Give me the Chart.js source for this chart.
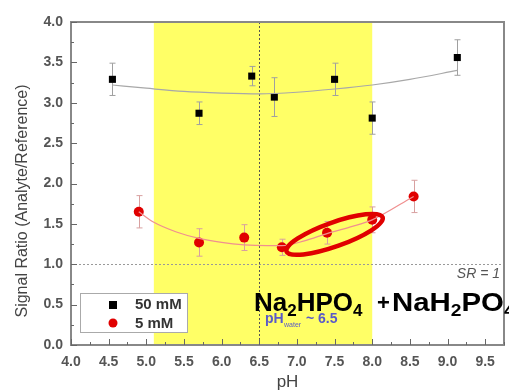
<!DOCTYPE html>
<html>
<head>
<meta charset="utf-8">
<script src="https://cdn.jsdelivr.net/npm/chart.js@4/dist/chart.umd.min.js"></script>
<style>
  html, body { margin: 0; padding: 0; background: #fff; }
  #wrap { width: 509px; height: 392px; }
</style>
</head>
<body>
<div id="wrap"><canvas id="myChart" width="509" height="392"></canvas></div>
<script>
// 50 mM points
var ph50 = [4.55, 5.7, 6.4, 6.7, 7.5, 8.0, 9.13];
var sr50 = [3.29, 2.87, 3.33, 3.07, 3.29, 2.81, 3.56];
var err50 = [0.2, 0.14, 0.12, 0.24, 0.2, 0.2, 0.22];

// 5 mM points
var ph5 = [4.9, 5.7, 6.3, 6.8, 7.4, 8.0, 8.55];
var sr5 = [1.65, 1.27, 1.33, 1.21, 1.39, 1.55, 1.84];
var err5 = [0.2, 0.17, 0.16, 0.1, 0.14, 0.16, 0.2];

// fitted curves
var fitPh50 = [4.55, 5.0, 5.5, 6.0, 6.5, 7.0, 7.5, 8.0, 8.5, 9.13];
var fitSr50 = [3.22, 3.18, 3.14, 3.12, 3.11, 3.13, 3.17, 3.22, 3.29, 3.40];
var fitPh5 = [4.9, 5.1, 5.4, 5.7, 6.0, 6.3, 6.6, 6.8, 7.1, 7.4, 7.7, 8.0, 8.55];
var fitSr5 = [1.65, 1.52, 1.40, 1.32, 1.27, 1.24, 1.23, 1.23, 1.29, 1.38, 1.46, 1.55, 1.84];

// axes
var xTicks = [4.0, 4.5, 5.0, 5.5, 6.0, 6.5, 7.0, 7.5, 8.0, 8.5, 9.0, 9.5];
var yTicks = [0.0, 0.5, 1.0, 1.5, 2.0, 2.5, 3.0, 3.5, 4.0];
var bandRange = [5.1, 8.0];
var phWater = 6.5;
var srLine = 1.0;
var seriesNames = ["50 mM", "5 mM"];

function pts(xs, ys) {
  return xs.map(function (x, i) { return { x: x, y: ys[i] }; });
}

var FONT = "'Liberation Sans', Arial, sans-serif";

// yellow band, dotted reference lines, error bars
var bgPlugin = {
  id: "bg",
  beforeDatasetsDraw: function (chart) {
    var ctx = chart.ctx, a = chart.chartArea;
    var xs = chart.scales.x, ys = chart.scales.y;
    ctx.save();
    var x1 = xs.getPixelForValue(bandRange[0]), x2 = xs.getPixelForValue(bandRange[1]);
    ctx.fillStyle = "#ffff66";
    ctx.fillRect(x1, a.top, x2 - x1, a.bottom - a.top);

    ctx.setLineDash([2, 2]);
    ctx.lineWidth = 1;
    ctx.strokeStyle = "#555";
    var xv = Math.round(xs.getPixelForValue(phWater)) + 0.5;
    ctx.beginPath(); ctx.moveTo(xv, a.top); ctx.lineTo(xv, a.bottom); ctx.stroke();

    ctx.strokeStyle = "#999";
    var yv = Math.round(ys.getPixelForValue(srLine)) + 0.5;
    ctx.beginPath(); ctx.moveTo(a.left, yv); ctx.lineTo(a.right, yv); ctx.stroke();
    ctx.setLineDash([]);

    function bars(xsArr, ysArr, es, color) {
      ctx.strokeStyle = color;
      ctx.lineWidth = 1;
      xsArr.forEach(function (x, i) {
        var px = Math.round(xs.getPixelForValue(x)) + 0.5;
        var top = ys.getPixelForValue(ysArr[i] + es[i]);
        var bot = ys.getPixelForValue(ysArr[i] - es[i]);
        ctx.beginPath();
        ctx.moveTo(px, top); ctx.lineTo(px, bot);
        ctx.moveTo(px - 3, top); ctx.lineTo(px + 3, top);
        ctx.moveTo(px - 3, bot); ctx.lineTo(px + 3, bot);
        ctx.stroke();
      });
    }
    bars(ph50, sr50, err50, "#a0a0a0");
    bars(ph5, sr5, err5, "#d8a0a0");
    ctx.restore();
  }
};

// frame, inward ticks, legend, annotations
var fgPlugin = {
  id: "fg",
  afterDraw: function (chart) {
    var ctx = chart.ctx, a = chart.chartArea;
    var xs = chart.scales.x, ys = chart.scales.y;
    ctx.save();
    ctx.strokeStyle = "#888";
    ctx.lineWidth = 2;
    ctx.strokeRect(a.left, a.top, a.right - a.left, a.bottom - a.top);

    ctx.lineWidth = 1;
    ctx.strokeStyle = "#666";
    ctx.beginPath();
    for (var v = 4.0; v <= 9.75 + 1e-6; v += 0.25) {
      var px = Math.round(xs.getPixelForValue(v)) + 0.5;
      var major = Math.abs(v * 2 - Math.round(v * 2)) < 1e-6;
      ctx.moveTo(px, a.bottom); ctx.lineTo(px, a.bottom - (major ? 6 : 3));
    }
    for (var w = 0; w <= 4 + 1e-6; w += 0.25) {
      var py = Math.round(ys.getPixelForValue(w)) + 0.5;
      var maj = Math.abs(w * 2 - Math.round(w * 2)) < 1e-6;
      ctx.moveTo(a.left, py); ctx.lineTo(a.left + (maj ? 6 : 3), py);
    }
    ctx.stroke();

    // y axis title
    ctx.save();
    ctx.translate(23, 201);
    ctx.rotate(-Math.PI / 2);
    ctx.font = "16px " + FONT;
    ctx.fillStyle = "#444";
    ctx.textAlign = "center";
    ctx.textBaseline = "middle";
    ctx.fillText("Signal Ratio (Analyte/Reference)", 0, 0);
    ctx.restore();

    // red ellipse
    var cx = xs.getPixelForValue(7.5), cy = ys.getPixelForValue(1.37);
    ctx.strokeStyle = "#e00000";
    ctx.lineWidth = 4.5;
    ctx.beginPath();
    ctx.ellipse(cx, cy, 51, 12, -0.34, 0, Math.PI * 2);
    ctx.stroke();

    // legend box
    ctx.fillStyle = "#fff";
    ctx.fillRect(80, 293, 108, 40);
    ctx.strokeStyle = "#aaa";
    ctx.lineWidth = 1;
    ctx.strokeRect(80.5, 293.5, 107, 39);
    ctx.fillStyle = "#000";
    ctx.fillRect(109, 301, 8, 8);
    ctx.fillStyle = "#e00000";
    ctx.beginPath(); ctx.arc(113, 323, 4.5, 0, Math.PI * 2); ctx.fill();
    ctx.fillStyle = "#333";
    ctx.font = "bold 15px " + FONT;
    ctx.textBaseline = "middle";
    ctx.textAlign = "left";
    ctx.fillText(seriesNames[0], 135, 305);
    ctx.fillText(seriesNames[1], 135, 324);

    // SR = 1
    ctx.font = "italic 14px " + FONT;
    ctx.fillStyle = "#555";
    ctx.textAlign = "right";
    ctx.textBaseline = "alphabetic";
    ctx.fillText("SR = 1", 500, 278);

    // formula
    ctx.textAlign = "left";
    ctx.fillStyle = "#000";
    function part(t, sub, x, y) {
      ctx.font = "bold " + (sub ? 17 : 26) + "px " + FONT;
      ctx.fillText(t, x, sub ? y + 5 : y);
      return x + ctx.measureText(t).width;
    }
    var x = 254, y = 311;
    x = part("Na", false, x, y);
    x = part("2", true, x, y);
    x = part("HPO", false, x, y);
    x = part("4", true, x, y);
    ctx.font = "bold 22px " + FONT;
    ctx.fillText("+", 377, y - 1);
    ctx.save();
    ctx.translate(392, 0);
    ctx.scale(1.13, 1);
    x = part("Na", false, 0, y);
    x = part("H", false, x, y);
    x = part("2", true, x, y);
    x = part("PO", false, x, y);
    x = part("4", true, x, y);
    ctx.restore();

    // pH water
    ctx.fillStyle = "#5a5ac8";
    ctx.font = "bold 14px " + FONT;
    ctx.fillText("pH", 265, 323);
    ctx.font = "7px " + FONT;
    ctx.fillText("water", 284, 327);
    ctx.font = "bold 14px " + FONT;
    ctx.fillText("~ 6.5", 306, 323);
    ctx.restore();
  }
};

var ctx = document.getElementById("myChart").getContext("2d");
var myChart = new Chart(ctx, {
  type: "scatter",
  data: {
    datasets: [
      {
        label: "fit50",
        data: pts(fitPh50, fitSr50),
        showLine: true,
        borderColor: "#a8a8a8",
        borderWidth: 1.2,
        pointRadius: 0,
        tension: 0.4,
        cubicInterpolationMode: "monotone",
      },
      {
        label: "fit5",
        data: pts(fitPh5, fitSr5),
        showLine: true,
        borderColor: "#f09090",
        borderWidth: 1.2,
        pointRadius: 0,
        tension: 0.4,
        cubicInterpolationMode: "monotone",
      },
      {
        label: seriesNames[0],
        data: pts(ph50, sr50),
        pointStyle: "rect",
        pointRadius: 5,
        backgroundColor: "#000",
        borderColor: "#000",
        borderWidth: 0,
      },
      {
        label: seriesNames[1],
        data: pts(ph5, sr5),
        pointStyle: "circle",
        pointRadius: 5,
        backgroundColor: "#e00000",
        borderColor: "#e00000",
        borderWidth: 0,
      },
    ],
  },
  options: {
    responsive: false,
    animation: false,
    layout: { padding: { top: 22, right: 3, left: 0, bottom: 0 } },
    plugins: { legend: { display: false }, tooltip: { enabled: false } },
    scales: {
      x: {
        type: "linear",
        min: 4.0,
        max: 9.75,
        afterFit: function (s) { s.height = 47; },
        afterBuildTicks: function (s) { s.ticks = xTicks.map(function (v) { return { value: v }; }); },
        grid: { display: false, drawTicks: false },
        border: { display: false },
        ticks: {
          padding: 9,
          color: "#555",
          font: { family: FONT, size: 14, weight: "bold" },
          callback: function (v) { return v.toFixed(1); },
        },
        title: {
          display: true,
          text: "pH",
          color: "#444",
          padding: { top: 0, bottom: -1 },
          font: { family: FONT, size: 17 },
        },
      },
      y: {
        min: 0,
        max: 4.0,
        afterFit: function (s) { s.width = 71; },
        afterBuildTicks: function (s) { s.ticks = yTicks.map(function (v) { return { value: v }; }); },
        grid: { display: false, drawTicks: false },
        border: { display: false },
        ticks: {
          padding: 8,
          color: "#555",
          font: { family: FONT, size: 14, weight: "bold" },
          callback: function (v) { return v.toFixed(1); },
        },
      },
    },
  },
  plugins: [bgPlugin, fgPlugin],
});
</script>
</body>
</html>
